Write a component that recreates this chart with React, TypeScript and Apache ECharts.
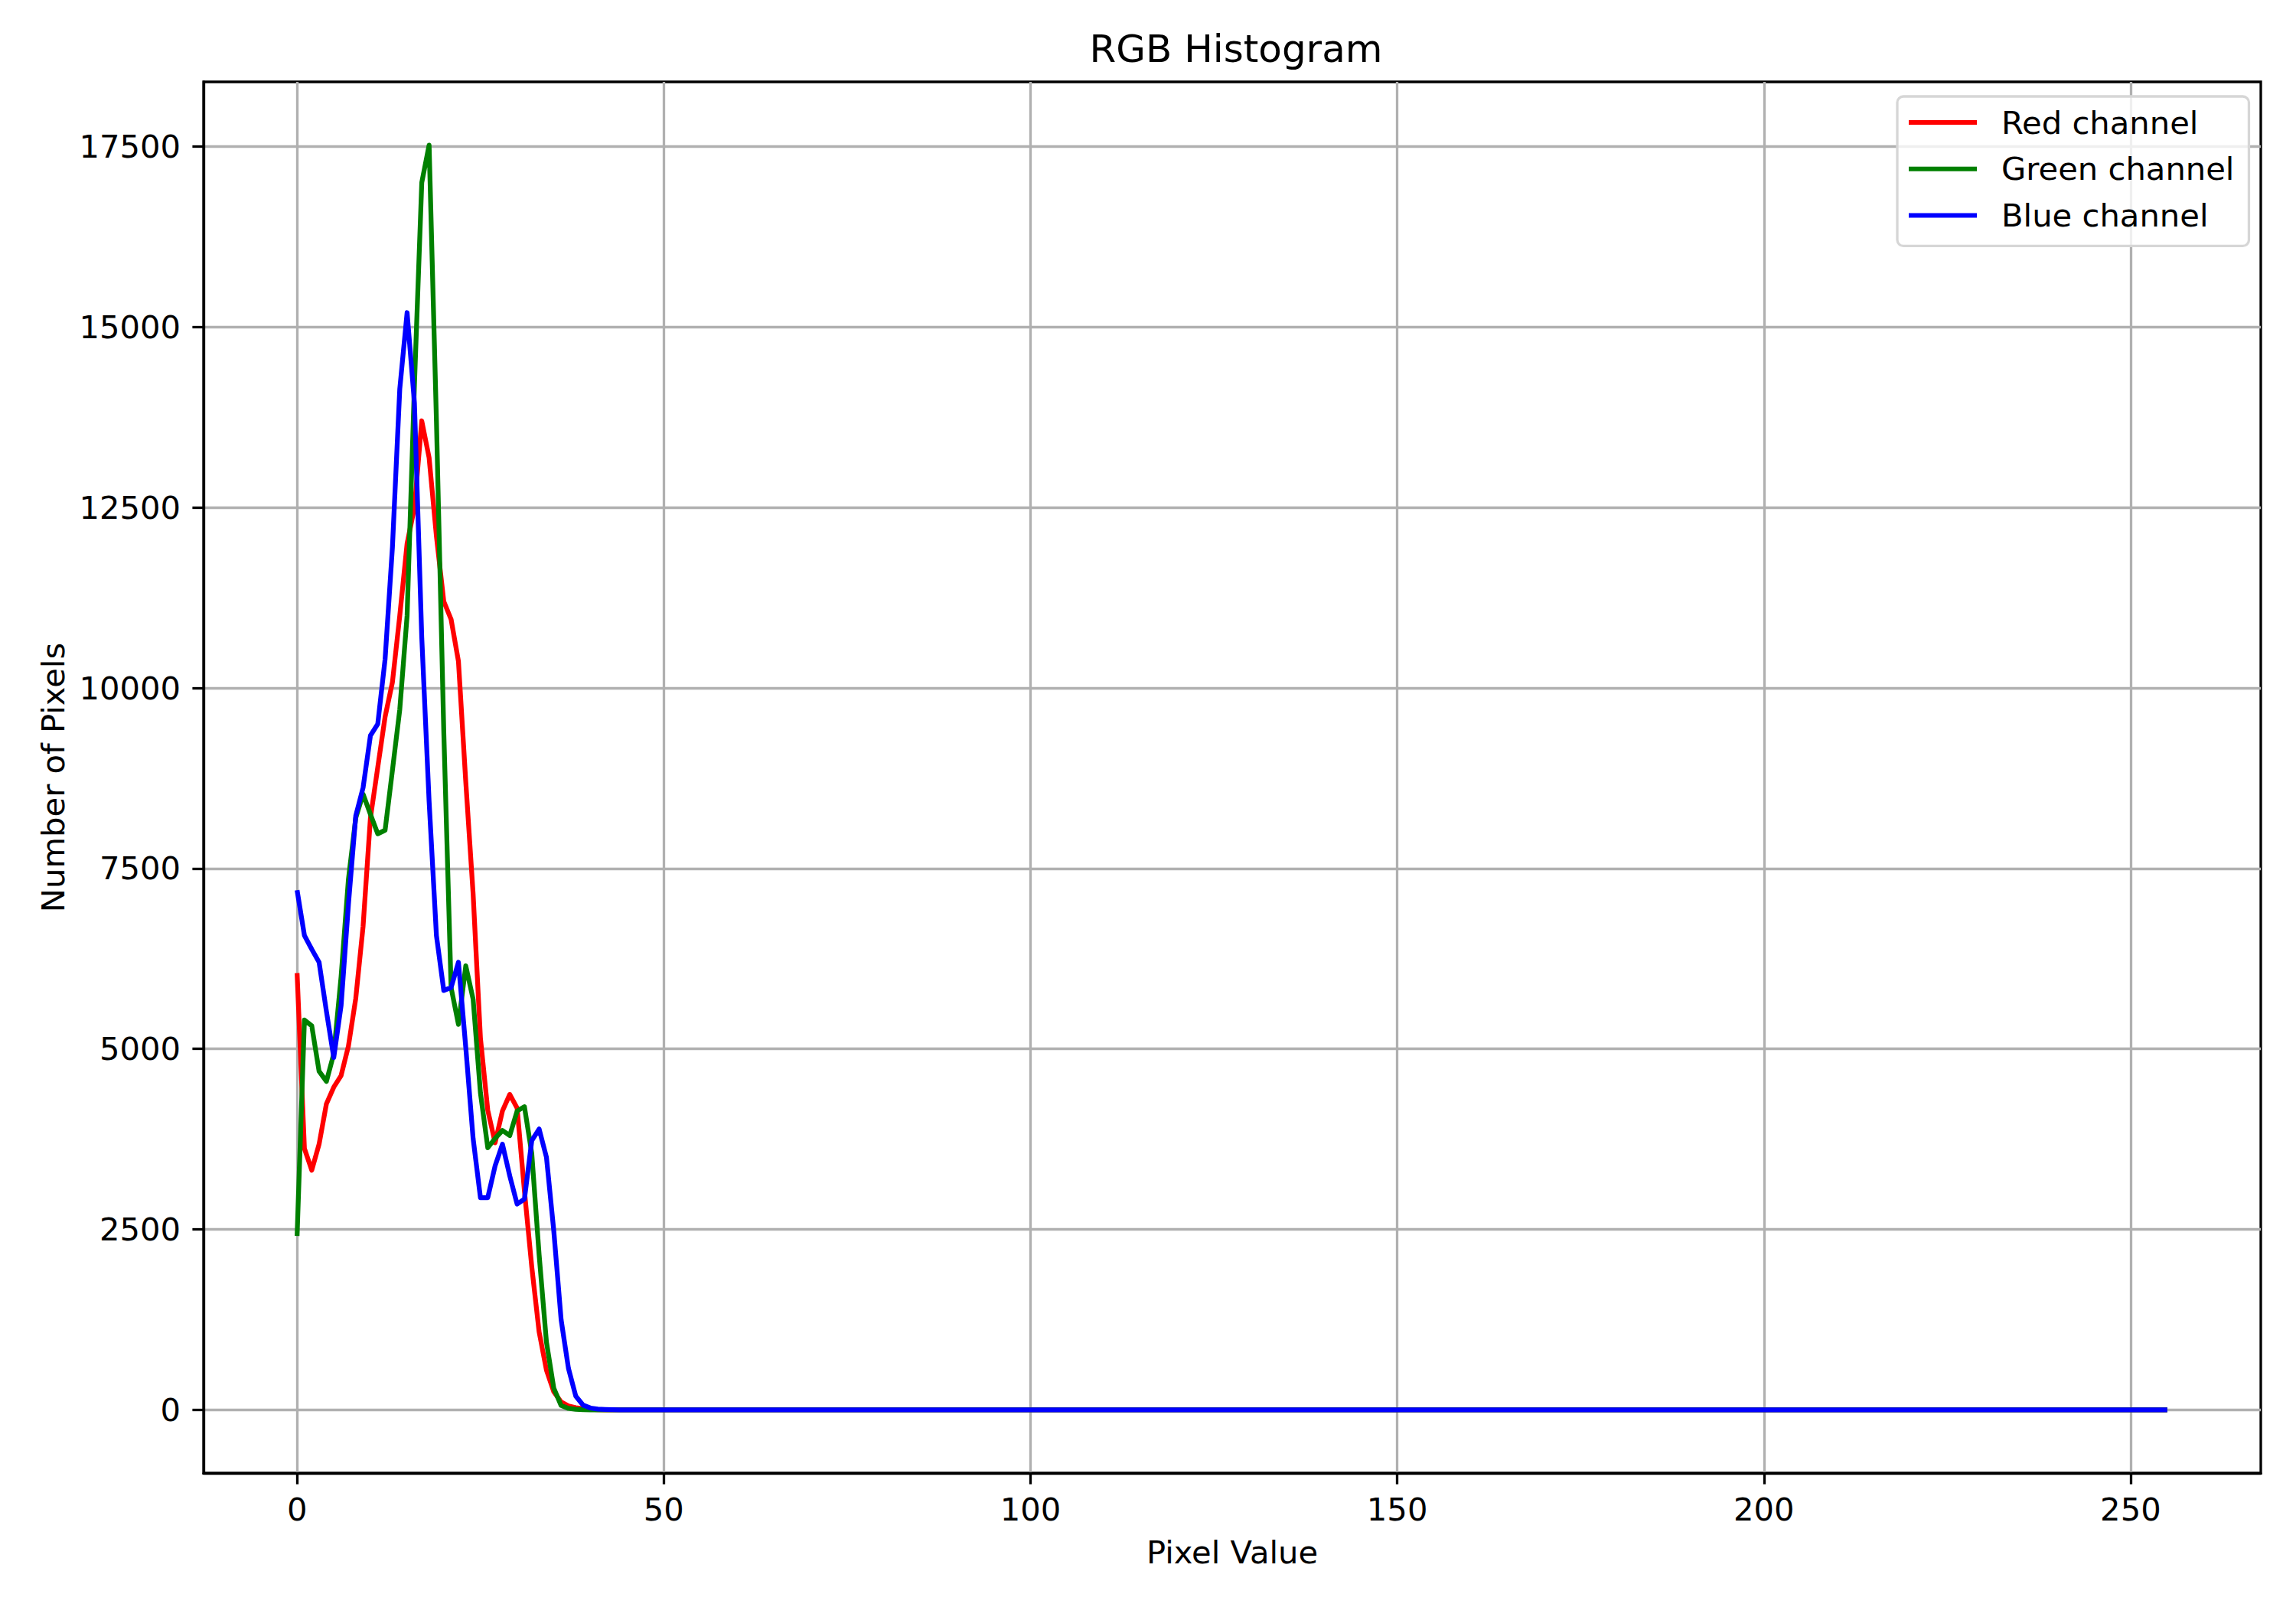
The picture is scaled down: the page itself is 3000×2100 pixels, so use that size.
import React, { useEffect, useRef } from "react";
import * as echarts from "echarts";

// Pixel values 0..44
const redHead = [
  6050, 3620, 3320, 3680, 4240, 4470, 4630, 5040, 5700, 6700,
  8200, 8900, 9600, 10080, 11000, 12000, 12500, 13700, 13190, 12100,
  11200, 10950, 10370, 8700, 7150, 5150, 4150, 3700, 4140, 4370,
  4180, 3030, 1980, 1080, 550, 250, 110, 55, 30, 15,
  8, 3, 1, 0, 0,
];
const greenHead = [
  2410, 5400, 5320, 4690, 4550, 4930, 6000, 7350, 8200, 8530,
  8250, 7980, 8030, 8860, 9700, 11000, 14200, 17000, 17520, 13700,
  9400, 5850, 5340, 6150, 5690, 4390, 3630, 3760, 3870, 3800,
  4140, 4200, 3550, 2150, 940, 300, 60, 20, 8, 3,
  1, 0, 0, 0, 0,
];
const blueHead = [
  7200, 6570, 6380, 6200, 5520, 4880, 5600, 7000, 8230, 8620,
  9340, 9500, 10400, 11950, 14140, 15200, 13950, 10700, 8430, 6570,
  5810, 5850, 6200, 5020, 3760, 2940, 2940, 3380, 3680, 3240,
  2850, 2920, 3730, 3890, 3500, 2480, 1250, 575, 190, 65,
  25, 10, 5, 2, 0,
];
// Pixel values 45..255: flat at zero in the picture
const zeroTail = [
  0, 0, 0, 0, 0, 0, 0, 0, 0, 0, 0, 0, 0, 0, 0, 0, 0, 0, 0, 0,
  0, 0, 0, 0, 0, 0, 0, 0, 0, 0, 0, 0, 0, 0, 0, 0, 0, 0, 0, 0,
  0, 0, 0, 0, 0, 0, 0, 0, 0, 0, 0, 0, 0, 0, 0, 0, 0, 0, 0, 0,
  0, 0, 0, 0, 0, 0, 0, 0, 0, 0, 0, 0, 0, 0, 0, 0, 0, 0, 0, 0,
  0, 0, 0, 0, 0, 0, 0, 0, 0, 0, 0, 0, 0, 0, 0, 0, 0, 0, 0, 0,
  0, 0, 0, 0, 0, 0, 0, 0, 0, 0, 0, 0, 0, 0, 0, 0, 0, 0, 0, 0,
  0, 0, 0, 0, 0, 0, 0, 0, 0, 0, 0, 0, 0, 0, 0, 0, 0, 0, 0, 0,
  0, 0, 0, 0, 0, 0, 0, 0, 0, 0, 0, 0, 0, 0, 0, 0, 0, 0, 0, 0,
  0, 0, 0, 0, 0, 0, 0, 0, 0, 0, 0, 0, 0, 0, 0, 0, 0, 0, 0, 0,
  0, 0, 0, 0, 0, 0, 0, 0, 0, 0, 0, 0, 0, 0, 0, 0, 0, 0, 0, 0,
  0, 0, 0, 0, 0, 0, 0, 0, 0, 0, 0,
];

const seriesNames = ["Red channel", "Green channel", "Blue channel"];
const seriesColors = ["#ff0000", "#008000", "#0000ff"];
const xTicks = [0, 50, 100, 150, 200, 250];
const yTicks = [0, 2500, 5000, 7500, 10000, 12500, 15000, 17500];

const FONT = "DejaVu Sans";

export default function App() {
  const ref = useRef<HTMLDivElement>(null);

  useEffect(() => {
    document.body.style.margin = "0";
    const chart = echarts.init(ref.current!, null, { renderer: "svg" });

    const channels = [redHead, greenHead, blueHead].map((h) => h.concat(zeroTail));
    const nBins = channels[0].length;
    const allMax = Math.max(...channels.map((c) => Math.max(...c)));
    const pad = 0.05;

    const axisLine = { show: true, onZero: false, lineStyle: { color: "#000", width: 3.3 } };
    const axisTick = (vals: number[]) => ({
      show: true,
      inside: false,
      length: 14.6,
      customValues: vals,
      lineStyle: { color: "#000", width: 3.3 },
    });
    const splitLine = { show: true, lineStyle: { color: "#b0b0b0", width: 3.3 } };
    const plain = (v: number) => String(v);

    chart.setOption({
      animation: false,
      backgroundColor: "#ffffff",
      title: {
        text: "RGB Histogram",
        left: 1610,
        top: 34,
        textAlign: "center",
        textStyle: { fontFamily: FONT, fontSize: 50, fontWeight: "normal", color: "#000" },
      },
      legend: {
        orient: "vertical",
        left: 2479,
        top: 126,
        data: seriesNames,
        icon: "rect",
        itemWidth: 89,
        itemHeight: 6,
        itemGap: 18.7,
        padding: [13, 19, 19, 15],
        backgroundColor: "rgba(255,255,255,0.8)",
        borderColor: "#d6d6d6",
        borderWidth: 3.3,
        borderRadius: 8,
        textStyle: {
          fontFamily: FONT,
          fontSize: 41.7,
          color: "#000",
          lineHeight: 42,
          padding: [0, 0, 0, 27],
        },
      },
      grid: {
        left: 266,
        right: 46,
        top: 107,
        bottom: 175,
        show: true,
        borderColor: "#000",
        borderWidth: 3.3,
        backgroundColor: "transparent",
      },
      xAxis: {
        type: "value",
        min: -pad * (nBins - 1),
        max: (nBins - 1) * (1 + pad),
        name: "Pixel Value",
        nameLocation: "middle",
        nameGap: 82,
        nameTextStyle: { fontFamily: FONT, fontSize: 41.7, color: "#000" },
        axisLine,
        axisTick: axisTick(xTicks),
        axisLabel: {
          customValues: xTicks,
          formatter: plain,
          margin: 26,
          fontFamily: FONT,
          fontSize: 41.7,
          color: "#000",
        },
        splitLine,
      },
      yAxis: {
        type: "value",
        min: -pad * allMax,
        max: allMax * (1 + pad),
        name: "Number of Pixels",
        nameLocation: "middle",
        nameGap: 176,
        nameTextStyle: { fontFamily: FONT, fontSize: 41.7, color: "#000" },
        axisLine,
        axisTick: axisTick(yTicks),
        axisLabel: {
          customValues: yTicks,
          formatter: plain,
          margin: 30,
          fontFamily: FONT,
          fontSize: 41.7,
          color: "#000",
        },
        splitLine,
      },
      series: channels.map((vals, k) => ({
        name: seriesNames[k],
        type: "line",
        data: vals.map((v, i) => [i, v]),
        showSymbol: false,
        symbol: "none",
        color: seriesColors[k],
        lineStyle: { color: seriesColors[k], width: 6.25, join: "round" },
        z: 3 + k,
      })),
    });

    return () => chart.dispose();
  }, []);

  return <div ref={ref} style={{ width: 3000, height: 2100 }} />;
}
